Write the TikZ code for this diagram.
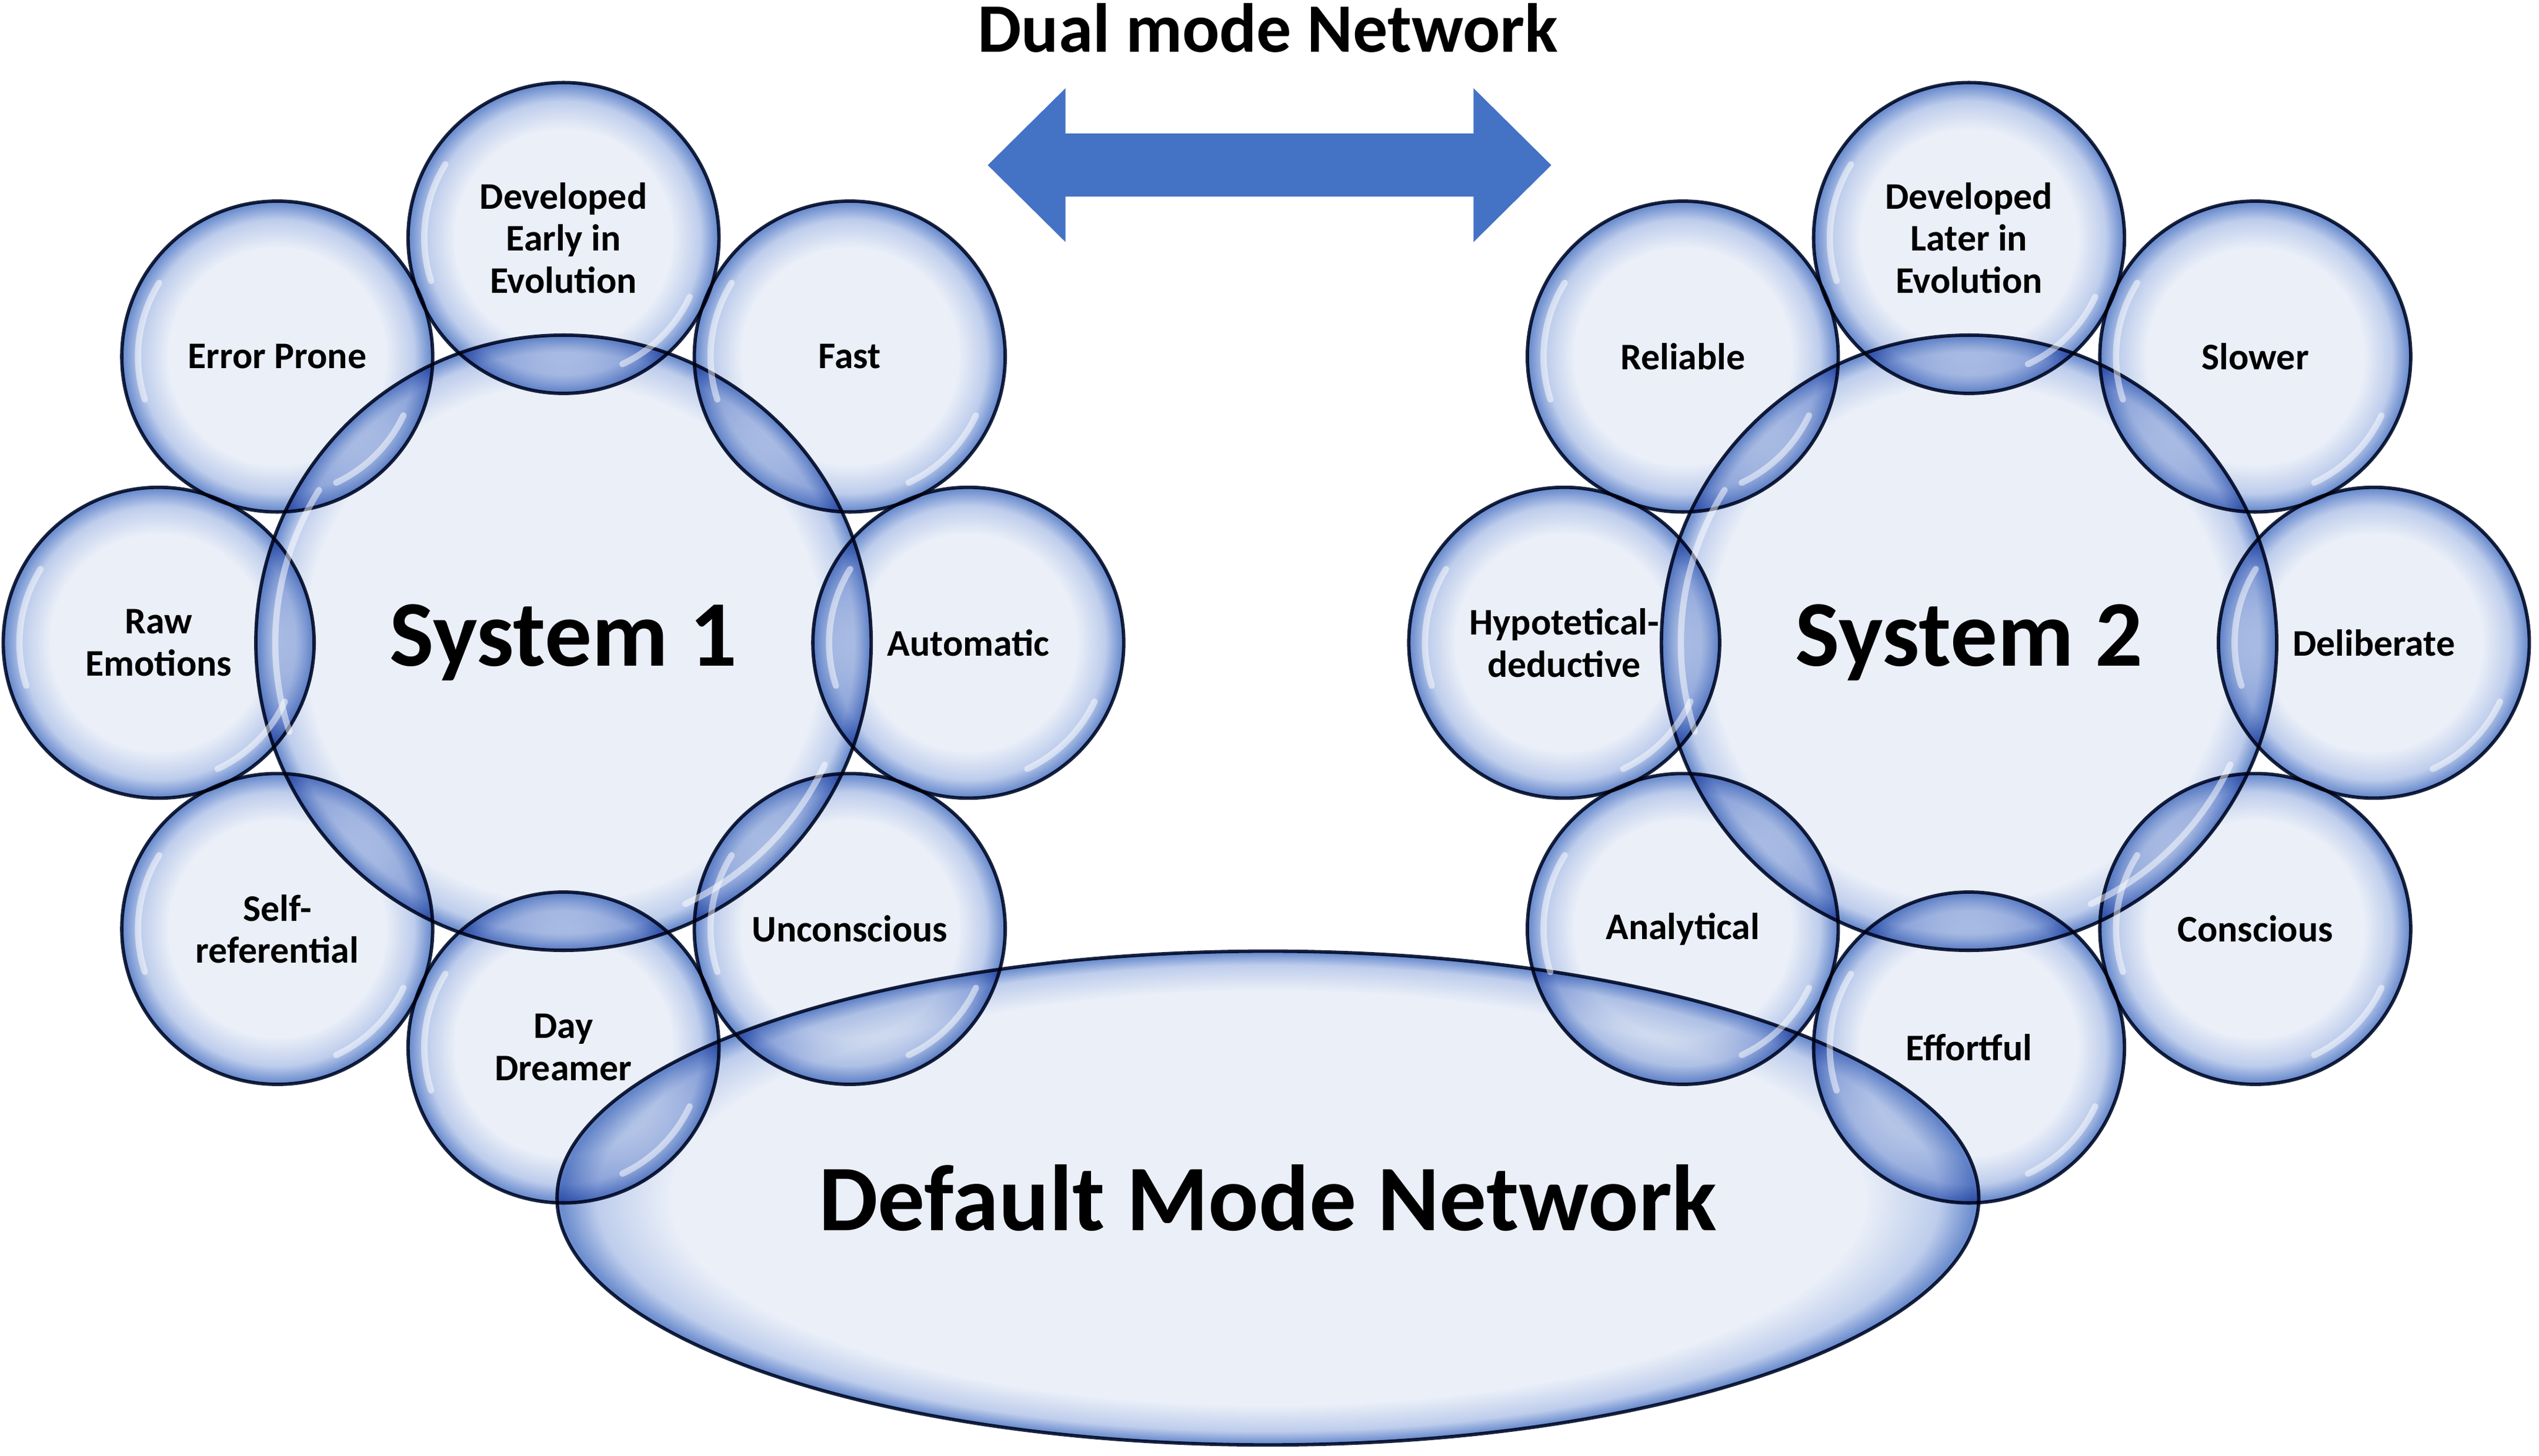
\documentclass[tikz,border=0pt]{standalone}
\usepackage{fontspec}
\setmainfont{Carlito}
\usetikzlibrary{shapes.geometric}

\definecolor{bubin}{RGB}{234,239,248}
\definecolor{bubmid}{RGB}{190,205,236}
\definecolor{bubrim}{RGB}{110,143,207}
\definecolor{arrowblue}{RGB}{68,114,196}
\definecolor{rimline}{RGB}{24,36,64}

\pgfdeclareradialshading{bubble}{\pgfpoint{0bp}{0bp}}{color(0bp)=(bubin); color(17.5bp)=(bubin); color(22bp)=(bubmid); color(24.6bp)=(bubrim); color(25bp)=(bubrim); color(50bp)=(bubrim)}
\pgfdeclareradialshading{bigbubble}{\pgfpoint{0bp}{0bp}}{color(0bp)=(bubin); color(21bp)=(bubin); color(23.6bp)=(bubmid); color(24.8bp)=(bubrim); color(25bp)=(bubrim); color(50bp)=(bubrim)}

\tikzset{
  bubble/.style={circle, shading=bubble, draw=rimline, line width=0.6pt,
    minimum size=1.92cm, inner sep=0pt, align=center,
    font=\bfseries\fontsize{6.6}{7.4}\selectfont},
  bigbubble/.style={bubble, shading=bigbubble, minimum size=3.8cm, font=\bfseries\fontsize{16.5}{20}\selectfont},
  shine/.style={white, opacity=.5, line width=1.1pt, line cap=round},
}

% white gloss streaks on a bubble: node, radius
\newcommand\gloss[2]{%
  \draw[shine] ([shift={(148:#2)}]#1.center) arc[start angle=148, end angle=198, radius=#2];
  \draw[shine] ([shift={(-65:#2)}]#1.center) arc[start angle=-65, end angle=-25, radius=#2];
}

\begin{document}
\begin{tikzpicture}

\useasboundingbox (0,0) rectangle (15.68,8.993);
\fill[white] (0,0) rectangle (15.68,8.993);

\node[font=\bfseries\fontsize{12.2}{14}\selectfont, anchor=base] (title) at (7.83,8.673) {Dual mode Network};

%double arrow between the two systems
\fill[arrowblue] (6.10,7.973) -- (6.58,8.448) -- (6.58,8.168) -- (9.10,8.168) -- (9.10,8.448)
  -- (9.58,7.973) -- (9.10,7.498) -- (9.10,7.778) -- (6.58,7.778) -- (6.58,7.498) -- cycle;

\begin{scope}[blend mode=multiply]
\node[bigbubble] (s1) at (3.48,5.023) {System 1};
\node[bigbubble] (s2) at (12.16,5.023) {System 2};

%bubbles round system 1
\foreach \i/\ang/\txt in {1/90/{Developed\\Early in\\Evolution}, 2/135/Error Prone, 3/180/{Raw\\Emotions},
  4/225/{Self-\\referential}, 5/270/{Day\\Dreamer}, 6/315/Unconscious, 7/0/Automatic, 8/45/Fast}
  \node[bubble] (a\i) at ([shift={(\ang:2.5)}]s1.center) {\txt};

%bubbles round system 2
\foreach \i/\ang/\txt in {1/90/{Developed\\Later in\\Evolution}, 2/135/Reliable, 3/180/{Hypotetical-\\deductive},
  4/225/Analytical, 5/270/Effortful, 6/315/Conscious, 7/0/Deliberate, 8/45/Slower}
  \node[bubble] (b\i) at ([shift={(\ang:2.5)}]s2.center) {\txt};

\node[bubble, ellipse, shading=bigbubble, minimum width=8.78cm, minimum height=3.05cm,
  font=\bfseries\fontsize{16.5}{20}\selectfont] (dmn) at (7.83,1.593) {Default Mode Network};
\end{scope}

%gloss
\gloss{s1}{1.78}
\gloss{s2}{1.78}
\foreach \i in {1,...,8} {
  \gloss{a\i}{0.86}
  \gloss{b\i}{0.86}
}

\end{tikzpicture}
\end{document}
